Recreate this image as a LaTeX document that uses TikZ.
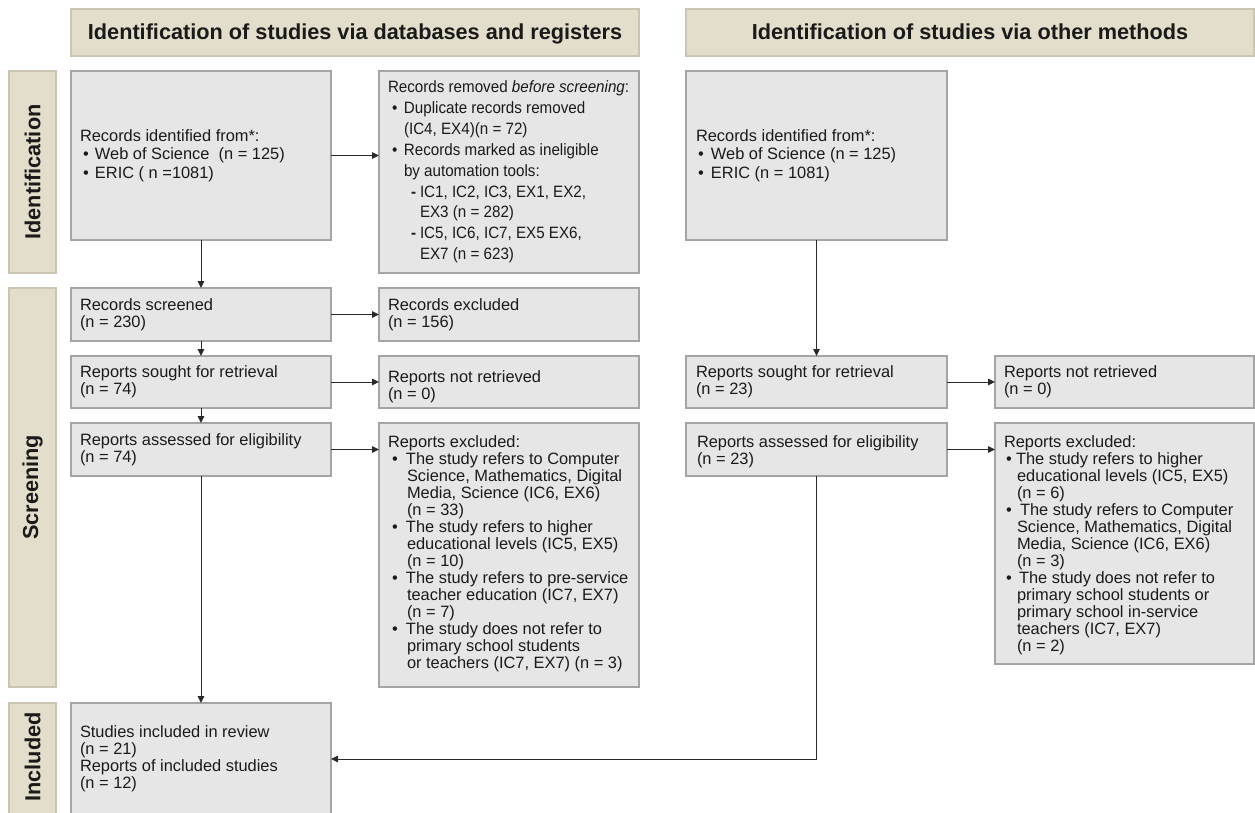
\documentclass[tikz,border=0pt]{standalone}
\usepackage{fontspec}
\setmainfont{Liberation Sans}
\newfontfamily\condfont[FakeStretch=0.925]{Liberation Sans}
\usetikzlibrary{arrows.meta}
\definecolor{barfill}{HTML}{E3DECB}
\definecolor{barline}{HTML}{CBC5B1}
\definecolor{boxfill}{HTML}{E6E6E7}
\definecolor{boxline}{HTML}{A5A5A5}
\definecolor{arrowc}{HTML}{2A2A2A}
\definecolor{inkc}{HTML}{1A1A1A}
\newcommand{\bl}[2]{\hspace*{#1pt}\makebox[#2pt][l]{•}}
\newcommand{\ind}[1]{\hspace*{#1pt}}
\newcommand{\flowbox}[5]{\node[box, minimum width=#4pt, minimum height=#5pt] (#1) at (#2,-#3) {};}
\begin{document}
\begin{tikzpicture}[x=1pt,y=1pt,
  box/.style={draw=boxline, fill=boxfill, line width=1.3pt, inner sep=0pt, outer sep=0pt, anchor=north west},
  bar/.style={draw=barline, fill=barfill, line width=1.3pt, inner sep=0pt, outer sep=0pt, anchor=north west, text=inkc},
  txt/.style={inner sep=0pt, outer sep=0pt, align=left, text=inkc, font=\fontsize{16.4}{17}\selectfont},
  hdr/.style={font=\bfseries\fontsize{21.7}{24}\selectfont, text height=15.6pt, text depth=2.5pt},
  side/.style={font=\bfseries\fontsize{21.7}{24}\selectfont, rotate=90, text=inkc, inner sep=0pt},
  arr/.style={draw=arrowc, line width=0.9pt, -{Triangle[length=7pt,width=6.5pt]}}]
\useasboundingbox (0,0) rectangle (1255,-812);
\fill[white] (0,0) rectangle (1255,-812);

% headers
\node[bar, hdr, minimum width=568pt, minimum height=47pt] (h1) at (71,-9) {Identification of studies via databases and registers};
\node[bar, hdr, minimum width=568pt, minimum height=47pt] (h2) at (686,-9) {Identification of studies via other methods};

% side bars
\node[bar, minimum width=47pt, minimum height=202pt] (s1) at (9,-71) {};
\node[side] (s1t) at (s1.center) {Identification};
\node[bar, minimum width=47pt, minimum height=399pt] (s2) at (9,-288) {};
\node[side] (s2t) at (s2.center) {Screening};
\node[bar, minimum width=47pt, minimum height=112pt] (s3) at (9,-703) {};
\node[side] (s3t) at (s1.center |- 0,-757) {Included};

% boxes
\flowbox{id1}{71}{71}{260}{169}
\flowbox{rem}{379}{71}{260}{202}
\flowbox{id2}{686}{71}{261}{169}
\flowbox{scr}{71}{288}{260}{53}
\flowbox{exc}{379}{288}{260}{53}
\flowbox{sou}{71}{356}{260}{52}
\flowbox{nr}{379}{356}{260}{52}
\flowbox{ass}{71}{423}{260}{53}
\flowbox{rex}{379}{423}{260}{264}
\flowbox{sou2}{686}{356}{261}{52}
\flowbox{nr2}{995}{356}{259}{52}
\flowbox{ass2}{686}{423}{261}{53}
\flowbox{rex2}{995}{423}{259}{241}
\flowbox{inc}{71}{703}{260}{112}

% texts
\node[txt, font=\fontsize{16.4}{18.7}\selectfont, anchor=west] (id1t) at ([xshift=9pt]id1.west)
 {Records identified from*:\\
  \bl{3}{12}Web of Science\ \ (n = 125)\\
  \bl{3}{12}ERIC ( n =1081)};
\node[txt, font=\condfont\fontsize{16.4}{20.85}\selectfont, anchor=west] (remt) at ([xshift=9pt]rem.west)
 {Records removed \textit{before screening}:\\
  \bl{4}{12}Duplicate records removed\\
  \ind{16}(IC4, EX4)(n = 72)\\
  \bl{4}{12}Records marked as ineligible\\
  \ind{16}by automation tools:\\
  \ind{23}\makebox[9pt][l]{\textbf{-}}IC1, IC2, IC3, EX1, EX2,\\
  \ind{32}EX3 (n = 282)\\
  \ind{23}\makebox[9pt][l]{\textbf{-}}IC5, IC6, IC7, EX5 EX6,\\
  \ind{32}EX7 (n = 623)};
\node[txt, font=\fontsize{16.4}{18.7}\selectfont, anchor=west] (id2t) at ([xshift=10pt]id2.west)
 {Records identified from*:\\
  \bl{2}{13}Web of Science (n = 125)\\
  \bl{2}{13}ERIC (n = 1081)};
\node[txt, anchor=north west] (scrt) at ([xshift=9pt,yshift=-11pt]scr.north west) {Records screened\\(n = 230)};
\node[txt, anchor=north west] (exct) at ([xshift=9pt,yshift=-11pt]exc.north west) {Records excluded\\(n = 156)};
\node[txt, anchor=north west] (sout) at ([xshift=9pt,yshift=-10pt]sou.north west) {Reports sought for retrieval\\(n = 74)};
\node[txt, anchor=north west] (nrt) at ([xshift=9pt,yshift=-15pt]nr.north west) {Reports not retrieved\\(n = 0)};
\node[txt, anchor=north west] (asst) at ([xshift=9pt,yshift=-11pt]ass.north west) {Reports assessed for eligibility\\(n = 74)};
\node[txt, anchor=north west] (rext) at ([xshift=9pt,yshift=-13pt]rex.north west)
 {Reports excluded:\\
  \bl{4}{14}The study refers to Computer\\
  \ind{19}Science, Mathematics, Digital\\
  \ind{19}Media, Science (IC6, EX6)\\
  \ind{19}(n = 33)\\
  \bl{4}{14}The study refers to higher\\
  \ind{19}educational levels (IC5, EX5)\\
  \ind{19}(n = 10)\\
  \bl{4}{14}The study refers to pre-service\\
  \ind{19}teacher education (IC7, EX7)\\
  \ind{19}(n = 7)\\
  \bl{4}{14}The study does not refer to\\
  \ind{19}primary school students\\
  \ind{19}or teachers (IC7, EX7) (n = 3)};
\node[txt, anchor=north west] (sou2t) at ([xshift=10pt,yshift=-10pt]sou2.north west) {Reports sought for retrieval\\(n = 23)};
\node[txt, anchor=north west] (nr2t) at ([xshift=9pt,yshift=-10pt]nr2.north west) {Reports not retrieved\\(n = 0)};
\node[txt, anchor=north west] (ass2t) at ([xshift=11pt,yshift=-13pt]ass2.north west) {Reports assessed for eligibility\\(n = 23)};
\node[txt, anchor=north west] (rex2t) at ([xshift=9pt,yshift=-13pt]rex2.north west)
 {Reports excluded:\\
  \bl{2}{10}The study refers to higher\\
  \ind{13}educational levels (IC5, EX5)\\
  \ind{13}(n = 6)\\
  \bl{2}{14}The study refers to Computer\\
  \ind{13}Science, Mathematics, Digital\\
  \ind{13}Media, Science (IC6, EX6)\\
  \ind{13}(n = 3)\\
  \bl{2}{13}The study does not refer to\\
  \ind{13}primary school students or\\
  \ind{13}primary school in-service\\
  \ind{13}teachers (IC7, EX7)\\
  \ind{13}(n = 2)};
\node[txt, anchor=west] (inct) at ([xshift=9pt]inc.west)
 {Studies included in review\\(n = 21)\\Reports of included studies\\(n = 12)};

% connectors
\draw[arr] (id1.east) -- (id1.east -| rem.west);
\draw[arr] (id1.south) -- (scr.north);
\draw[arr] (scr.east) -- (scr.east -| exc.west);
\draw[arr] (scr.south) -- (sou.north);
\draw[arr] (sou.east) -- (sou.east -| nr.west);
\draw[arr] (sou.south) -- (ass.north);
\draw[arr] (ass.east) -- (ass.east -| rex.west);
\draw[arr] (ass.south) -- (inc.north);
\draw[arr] (id2.south) -- (sou2.north);
\draw[arr] (sou2.east) -- (sou2.east -| nr2.west);
\draw[arr] (ass2.east) -- (ass2.east -| rex2.west);
\draw[arr] (ass2.south) |- (inc.east);
\end{tikzpicture}
\end{document}
